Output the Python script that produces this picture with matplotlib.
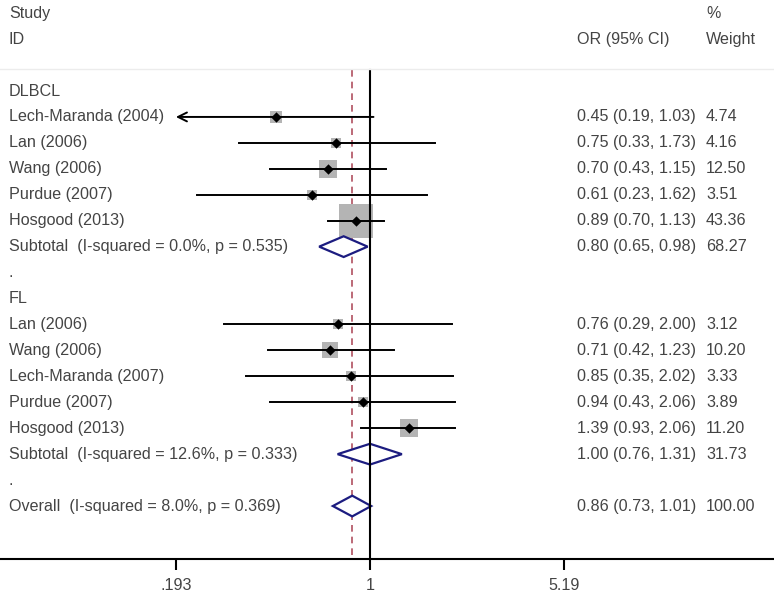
import numpy as np
import matplotlib
matplotlib.use("Agg")
import matplotlib.pyplot as plt
from matplotlib.lines import Line2D

plt.rcParams['font.family'] = ['Liberation Sans', 'DejaVu Sans']

# DLBCL studies
dlbcl_ids = ["Lech-Maranda (2004)", "Lan (2006)", "Wang (2006)", "Purdue (2007)", "Hosgood (2013)"]
dlbcl_or = [0.45, 0.75, 0.70, 0.61, 0.89]
dlbcl_lo = [0.19, 0.33, 0.43, 0.23, 0.70]
dlbcl_hi = [1.03, 1.73, 1.15, 1.62, 1.13]
dlbcl_w = [4.74, 4.16, 12.50, 3.51, 43.36]
dlbcl_sub = [0.80, 0.65, 0.98, 68.27]
dlbcl_sub_label = "Subtotal  (I-squared = 0.0%, p = 0.535)"

# FL studies
fl_ids = ["Lan (2006)", "Wang (2006)", "Lech-Maranda (2007)", "Purdue (2007)", "Hosgood (2013)"]
fl_or = [0.76, 0.71, 0.85, 0.94, 1.39]
fl_lo = [0.29, 0.42, 0.35, 0.43, 0.93]
fl_hi = [2.00, 1.23, 2.02, 2.06, 2.06]
fl_w = [3.12, 10.20, 3.33, 3.89, 11.20]
fl_sub = [1.00, 0.76, 1.31, 31.73]
fl_sub_label = "Subtotal  (I-squared = 12.6%, p = 0.333)"

overall = [0.86, 0.73, 1.01, 100.00]
overall_label = "Overall  (I-squared = 8.0%, p = 0.369)"

axis_ticks = [0.193, 1, 5.19]
tick_labels = [".193", "1", "5.19"]

W, H = 774, 597
txt = '#444444'
fs = 11.6

fig = plt.figure(figsize=(W / 100, H / 100), dpi=100)
ax = fig.add_axes([0, 1 - 559 / H, 1, 559 / H])
ax.set_xscale('log')
k = 118.0  # px per ln unit
ax.set_xlim(np.exp(-370 / k), np.exp((W - 370) / k))
row_h = 25.94
ax.set_ylim((559 - 91) / row_h, -91 / row_h)


def label(y, s):
    ax.text(9 / W, y, s, transform=ax.get_yaxis_transform(), ha='left', va='center',
            fontsize=fs, color=txt)


def stats(y, o, l, h, w):
    ax.text(577 / W, y, f"{o:.2f} ({l:.2f}, {h:.2f})", transform=ax.get_yaxis_transform(),
            ha='left', va='center', fontsize=fs, color=txt)
    ax.text(706 / W, y, f"{w:.2f}", transform=ax.get_yaxis_transform(),
            ha='left', va='center', fontsize=fs, color=txt)


def study(y, o, l, h, w):
    if l < axis_ticks[0]:
        ax.annotate('', xy=(axis_ticks[0], y), xytext=(h, y),
                    arrowprops=dict(arrowstyle='->', lw=1.4, color='black', mutation_scale=16,
                                    shrinkA=0, shrinkB=0), zorder=3)
    else:
        ax.plot([l, h], [y, y], color='black', lw=1.4, zorder=3)
    ax.scatter([o], [y], marker='s', s=13.5 * w, color='#b4b4b4', zorder=2, linewidths=0)
    ax.scatter([o], [y], marker='D', s=28, color='black', zorder=4, linewidths=0)
    stats(y, o, l, h, w)


def diamond(y, o, l, h, w):
    ax.fill([l, o, h, o, l], [y, y - 0.4, y, y + 0.4, y], facecolor='white',
            edgecolor='#1c1c80', lw=1.6, zorder=5)
    stats(y, o, l, h, w)


# header
label(-3.0, "Study")
label(-2.0, "ID")
ax.text(577 / W, -2.0, "OR (95% CI)", transform=ax.get_yaxis_transform(), ha='left',
        va='center', fontsize=fs, color=txt)
ax.text(706 / W, -3.0, "%", transform=ax.get_yaxis_transform(), ha='left', va='center',
        fontsize=fs, color=txt)
ax.text(706 / W, -2.0, "Weight", transform=ax.get_yaxis_transform(), ha='left', va='center',
        fontsize=fs, color=txt)
fig.add_artist(Line2D([0, 1], [1 - 69 / H, 1 - 69 / H], color='#ececec', lw=1))

top = -0.81
ax.plot([1, 1], [top, ax.get_ylim()[0]], color='black', lw=1.5, zorder=6)
ax.plot([overall[0], overall[0]], [top, ax.get_ylim()[0]], color='#b05060', lw=1.2,
        ls=(0, (4, 3)), zorder=1)

row = 0
label(row, "DLBCL")
for i in range(len(dlbcl_ids)):
    row += 1
    label(row, dlbcl_ids[i])
    study(row, dlbcl_or[i], dlbcl_lo[i], dlbcl_hi[i], dlbcl_w[i])
row += 1
label(row, dlbcl_sub_label)
diamond(row, *dlbcl_sub)
row += 1
label(row, ".")
row += 1
label(row, "FL")
for i in range(len(fl_ids)):
    row += 1
    label(row, fl_ids[i])
    study(row, fl_or[i], fl_lo[i], fl_hi[i], fl_w[i])
row += 1
label(row, fl_sub_label)
diamond(row, *fl_sub)
row += 1
label(row, ".")
row += 1
label(row, overall_label)
diamond(row, *overall)

for s in ['left', 'right', 'top']:
    ax.spines[s].set_visible(False)
ax.spines['bottom'].set_linewidth(1.5)
ax.set_yticks([])
ax.set_xticks(axis_ticks)
ax.set_xticklabels(tick_labels)
ax.minorticks_off()
ax.tick_params(axis='x', direction='out', length=8, width=1.5, pad=6, labelsize=fs,
               labelcolor=txt)

fig.savefig('out.png', dpi=100)
